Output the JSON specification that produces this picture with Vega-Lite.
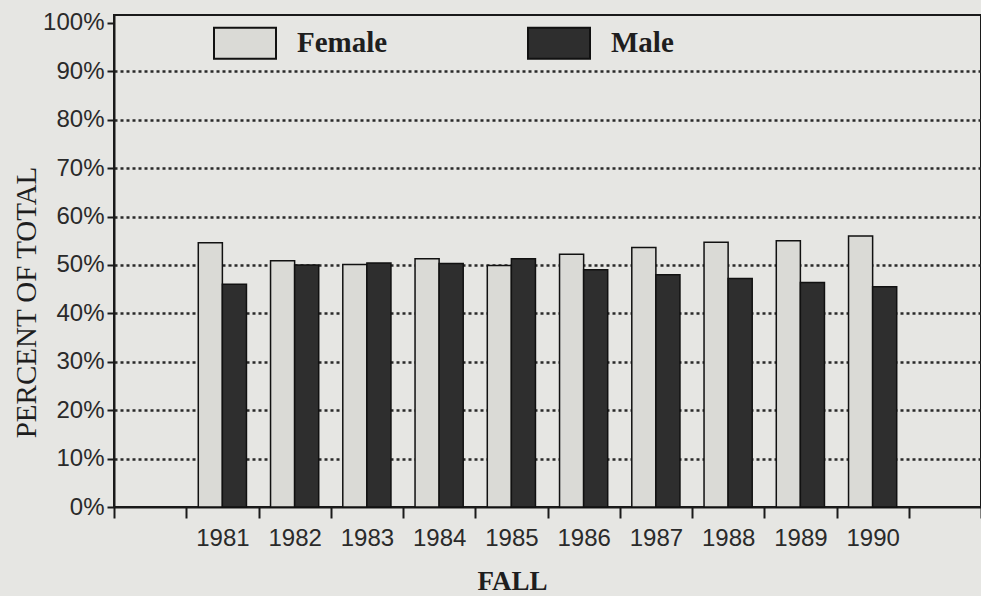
{
  "$schema": "https://vega.github.io/schema/vega-lite/v6.json",
  "autosize": "none",
  "padding": {"left": 114, "top": 15, "right": 0, "bottom": 89},
  "width": 867,
  "height": 492,
  "background": "#e6e6e3",
  "config": {
    "view": {"stroke": "#1a1a1a", "strokeWidth": 2},
    "axis": {"labelColor": "#2a2a2a", "titleColor": "#1e1e1e", "domainColor": "#1a1a1a", "tickColor": "#1a1a1a", "domainWidth": 2, "tickWidth": 2}
  },
  "data": {
    "values": [
      {"year": "1981", "sex": "Female", "pct": 0.546}, {"year": "1981", "sex": "Male", "pct": 0.460},
      {"year": "1982", "sex": "Female", "pct": 0.509}, {"year": "1982", "sex": "Male", "pct": 0.500},
      {"year": "1983", "sex": "Female", "pct": 0.501}, {"year": "1983", "sex": "Male", "pct": 0.504},
      {"year": "1984", "sex": "Female", "pct": 0.513}, {"year": "1984", "sex": "Male", "pct": 0.503},
      {"year": "1985", "sex": "Female", "pct": 0.499}, {"year": "1985", "sex": "Male", "pct": 0.513},
      {"year": "1986", "sex": "Female", "pct": 0.522}, {"year": "1986", "sex": "Male", "pct": 0.490},
      {"year": "1987", "sex": "Female", "pct": 0.536}, {"year": "1987", "sex": "Male", "pct": 0.480},
      {"year": "1988", "sex": "Female", "pct": 0.547}, {"year": "1988", "sex": "Male", "pct": 0.472},
      {"year": "1989", "sex": "Female", "pct": 0.550}, {"year": "1989", "sex": "Male", "pct": 0.464},
      {"year": "1990", "sex": "Female", "pct": 0.560}, {"year": "1990", "sex": "Male", "pct": 0.455}
    ]
  },
  "mark": {"type": "bar", "stroke": "#111111", "strokeWidth": 1.5},
  "encoding": {
    "x": {
      "field": "year", "type": "nominal",
      "scale": {"domain": ["_a", "1981", "1982", "1983", "1984", "1985", "1986", "1987", "1988", "1989", "1990", "_z"], "paddingInner": 0, "paddingOuter": 0},
      "axis": {
        "title": "FALL", "titleFont": "Liberation Serif", "titleFontSize": 27, "titleFontWeight": "bold",
        "titleX": 398, "titleY": 82, "titleBaseline": "alphabetic", "titleAnchor": null,
        "labelExpr": "datum.value == '_a' || datum.value == '_z' ? '' : datum.value",
        "labelAngle": 0, "labelFont": "Liberation Sans", "labelFontSize": 24, "labelPadding": 8,
        "tickSize": 11, "tickBand": "extent", "grid": false
      }
    },
    "xOffset": {"field": "sex", "type": "nominal", "scale": {"domain": ["Female", "Male"], "paddingInner": 0, "paddingOuter": 0.5}},
    "y": {
      "field": "pct", "type": "quantitative",
      "scale": {"domain": [0, 1.0165], "nice": false},
      "axis": {
        "title": "PERCENT OF TOTAL", "titleFont": "Liberation Serif", "titleFontSize": 29, "titleFontWeight": "normal",
        "titleX": -88, "titleY": 287, "titleAngle": 270, "titleAlign": "center", "titleBaseline": "middle", "titleAnchor": null,
        "values": [0, 0.1, 0.2, 0.3, 0.4, 0.5, 0.6, 0.7, 0.8, 0.9, 1.0],
        "format": ".0%", "labelFont": "Liberation Sans", "labelFontSize": 24, "labelPadding": 3,
        "tickSize": 7, "grid": true, "gridColor": "#2a2a2a", "gridWidth": 2.5, "gridDash": [3, 3],
        "gridOpacity": {"condition": {"test": "datum.value >= 1 || datum.value <= 0", "value": 0}, "value": 1}
      }
    },
    "color": {
      "field": "sex", "type": "nominal",
      "scale": {"domain": ["Female", "Male"], "range": ["#dadad6", "#2e2e2e"]},
      "legend": {
        "title": null, "orient": "none", "legendX": 99, "legendY": -4, "direction": "horizontal",
        "padding": 0, "symbolType": "M-1,-0.5H1V0.5H-1Z", "symbolSize": 3844,
        "symbolStrokeColor": "#111111", "symbolStrokeWidth": 2, "symbolOpacity": 1,
        "labelFont": "Liberation Serif", "labelFontWeight": "bold", "labelFontSize": 29, "labelColor": "#1e1e1e",
        "labelOffset": 20, "columnPadding": 136, "labelLimit": 300
      }
    }
  }
}
